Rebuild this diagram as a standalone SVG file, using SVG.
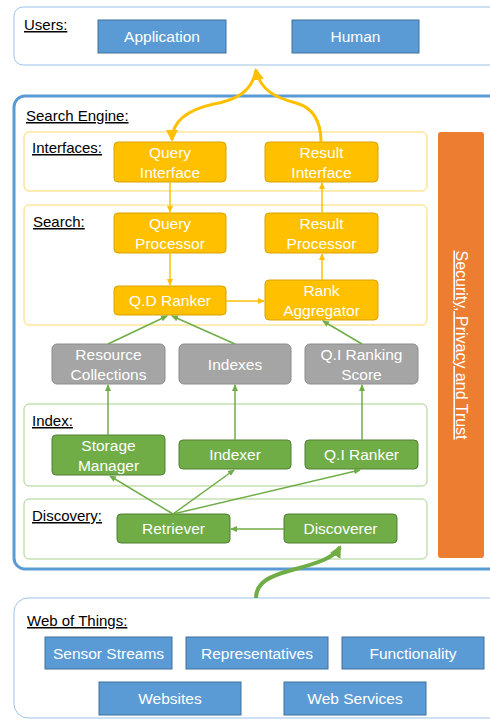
<svg xmlns="http://www.w3.org/2000/svg" width="490" height="721" viewBox="0 0 490 721">
<defs>
<style>
text{font-family:"Liberation Sans",Arial,sans-serif;font-size:15px}
.lbl{fill:#000;text-decoration:underline}
.nt{fill:#fff;text-anchor:middle;font-size:15.5px}
.blue{fill:#5b9bd5;stroke:#41719c;stroke-width:1}
.yel{fill:#ffc000;stroke:#d9a300;stroke-width:1}
.gry{fill:#a5a5a5;stroke:#8c8c8c;stroke-width:1}
.grn{fill:#70ad47;stroke:#507e32;stroke-width:1}
.ya{stroke:#ffc000;stroke-width:1.5;fill:none}
.ga{stroke:#70ad47;stroke-width:1.5;fill:none}
</style>
<marker id="my" markerWidth="8" markerHeight="8" refX="6" refY="4" orient="auto" markerUnits="userSpaceOnUse"><path d="M0,1 L7,4 L0,7 Z" fill="#ffc000"/></marker>
<marker id="mg" markerWidth="8" markerHeight="8" refX="6" refY="4" orient="auto" markerUnits="userSpaceOnUse"><path d="M0,1 L7,4 L0,7 Z" fill="#70ad47"/></marker>
<marker id="myb" markerWidth="14" markerHeight="14" refX="10" refY="7" orient="auto" markerUnits="userSpaceOnUse"><path d="M0,1 L12,7 L0,13 Z" fill="#ffc000"/></marker>
<marker id="mgb" markerWidth="14" markerHeight="14" refX="10" refY="7" orient="auto" markerUnits="userSpaceOnUse"><path d="M0,1 L12,7 L0,13 Z" fill="#70ad47"/></marker>
</defs>

<g id="users">
<rect x="14" y="7" width="490" height="58" rx="9" fill="#fff" stroke="#9dc3e6" stroke-width="1"/>
<text class="lbl" x="24" y="30">Users:</text>
</g>
<g id="application"><rect class="blue" x="98" y="20" width="128" height="33"/><text class="nt" x="162" y="42">Application</text></g>
<g id="human"><rect class="blue" x="292" y="20" width="127" height="33"/><text class="nt" x="355.5" y="42">Human</text></g>

<g id="search-engine">
<rect x="14" y="96" width="490" height="473" rx="11" fill="#fff" stroke="#5b9bd5" stroke-width="3"/>
<text class="lbl" x="26" y="121">Search Engine:</text>
</g>

<g id="interfaces"><rect x="24" y="132" width="403" height="59" rx="5" fill="none" stroke="#ffd966"/><text class="lbl" x="32" y="153">Interfaces:</text></g>
<g id="search"><rect x="24" y="205" width="403" height="120" rx="5" fill="none" stroke="#ffd966"/><text class="lbl" x="33" y="227">Search:</text></g>
<g id="index"><rect x="24" y="404" width="403" height="82" rx="5" fill="none" stroke="#a9d18e"/><text class="lbl" x="32" y="426">Index:</text></g>
<g id="discovery"><rect x="24" y="499" width="403" height="60" rx="5" fill="none" stroke="#a9d18e"/><text class="lbl" x="32" y="521">Discovery:</text></g>

<g id="security"><rect x="438" y="132" width="46" height="426" rx="3" fill="#ed7d31"/><text class="nt" style="text-decoration:underline;font-size:16px" transform="translate(456,345) rotate(90)">Security, Privacy and Trust</text></g>

<g id="query-interface"><rect class="yel" x="114" y="142" width="112" height="40" rx="4"/><text class="nt" x="170" y="158">Query</text><text class="nt" x="170" y="178">Interface</text></g>
<g id="result-interface"><rect class="yel" x="265" y="142" width="113" height="40" rx="4"/><text class="nt" x="321.5" y="158">Result</text><text class="nt" x="321.5" y="178">Interface</text></g>
<g id="query-processor"><rect class="yel" x="114" y="213" width="112" height="40" rx="4"/><text class="nt" x="170" y="229">Query</text><text class="nt" x="170" y="249">Processor</text></g>
<g id="result-processor"><rect class="yel" x="265" y="213" width="113" height="40" rx="4"/><text class="nt" x="321.5" y="229">Result</text><text class="nt" x="321.5" y="249">Processor</text></g>
<g id="qd-ranker"><rect class="yel" x="114" y="286" width="112" height="29" rx="4"/><text class="nt" x="170" y="306">Q.D Ranker</text></g>
<g id="rank-aggregator"><rect class="yel" x="265" y="280" width="113" height="40" rx="4"/><text class="nt" x="321.5" y="296">Rank</text><text class="nt" x="321.5" y="316">Aggregator</text></g>

<g id="resource-collections"><rect class="gry" x="52" y="344" width="113" height="40" rx="5"/><text class="nt" x="108.5" y="360">Resource</text><text class="nt" x="108.5" y="380">Collections</text></g>
<g id="indexes"><rect class="gry" x="179" y="344" width="112" height="40" rx="5"/><text class="nt" x="235" y="370">Indexes</text></g>
<g id="qi-ranking-score"><rect class="gry" x="305" y="344" width="113" height="40" rx="5"/><text class="nt" x="361.5" y="360">Q.I Ranking</text><text class="nt" x="361.5" y="380">Score</text></g>

<g id="storage-manager"><rect class="grn" x="52" y="435" width="113" height="40" rx="4"/><text class="nt" x="108.5" y="451">Storage</text><text class="nt" x="108.5" y="471">Manager</text></g>
<g id="indexer"><rect class="grn" x="179" y="440" width="112" height="29" rx="4"/><text class="nt" x="235" y="460">Indexer</text></g>
<g id="qi-ranker"><rect class="grn" x="305" y="440" width="113" height="29" rx="4"/><text class="nt" x="361.5" y="460">Q.I Ranker</text></g>
<g id="retriever"><rect class="grn" x="117" y="514" width="113" height="29" rx="4"/><text class="nt" x="173.5" y="534">Retriever</text></g>
<g id="discoverer"><rect class="grn" x="284" y="514" width="113" height="29" rx="4"/><text class="nt" x="340.5" y="534">Discoverer</text></g>

<g id="web-of-things">
<rect x="14" y="598" width="490" height="120" rx="14" fill="#fff" stroke="#9dc3e6" stroke-width="1"/>
<text class="lbl" x="27" y="626">Web of Things:</text>
</g>
<g id="sensor-streams"><rect class="blue" x="45" y="637" width="127" height="32"/><text class="nt" x="108.5" y="659">Sensor Streams</text></g>
<g id="representatives"><rect class="blue" x="186" y="637" width="142" height="32"/><text class="nt" x="257" y="659">Representatives</text></g>
<g id="functionality"><rect class="blue" x="342" y="637" width="142" height="32"/><text class="nt" x="413" y="659">Functionality</text></g>
<g id="websites"><rect class="blue" x="99" y="682" width="142" height="33"/><text class="nt" x="170" y="704">Websites</text></g>
<g id="web-services"><rect class="blue" x="284" y="682" width="142" height="33"/><text class="nt" x="355" y="704">Web Services</text></g>

<g id="connectors">
<path d="M256,70 C252,92 236,100 214,104 C186,110 172,122 172,140" fill="none" stroke="#ffc000" stroke-width="3" marker-end="url(#myb)"/>
<path d="M321,142 C321,122 314,108 296,103 C276,98 260,90 256,70" fill="none" stroke="#ffc000" stroke-width="3" marker-end="url(#myb)"/>
<path class="ya" d="M170,182 V212" marker-end="url(#my)"/>
<path class="ya" d="M170,253 V285" marker-end="url(#my)"/>
<path class="ya" d="M226,301 H264" marker-end="url(#my)"/>
<path class="ya" d="M322,280 V254" marker-end="url(#my)"/>
<path class="ya" d="M322,213 V183" marker-end="url(#my)"/>
<path class="ga" d="M108,344 L167,316" marker-end="url(#mg)"/>
<path class="ga" d="M235,344 L172,316" marker-end="url(#mg)"/>
<path class="ga" d="M362,344 L323,321" marker-end="url(#mg)"/>
<path class="ga" d="M108,435 V385" marker-end="url(#mg)"/>
<path class="ga" d="M235,440 V385" marker-end="url(#mg)"/>
<path class="ga" d="M362,440 V385" marker-end="url(#mg)"/>
<path class="ga" d="M173,514 L110,476" marker-end="url(#mg)"/>
<path class="ga" d="M173,514 L234,470" marker-end="url(#mg)"/>
<path class="ga" d="M173,514 L360,470" marker-end="url(#mg)"/>
<path class="ga" d="M284,529 H231" marker-end="url(#mg)"/>
<path d="M256,598 C256,582 270,576 292,570 C318,563 334,558 340,547" fill="none" stroke="#70ad47" stroke-width="4" marker-end="url(#mgb)"/>
</g>
</svg>
